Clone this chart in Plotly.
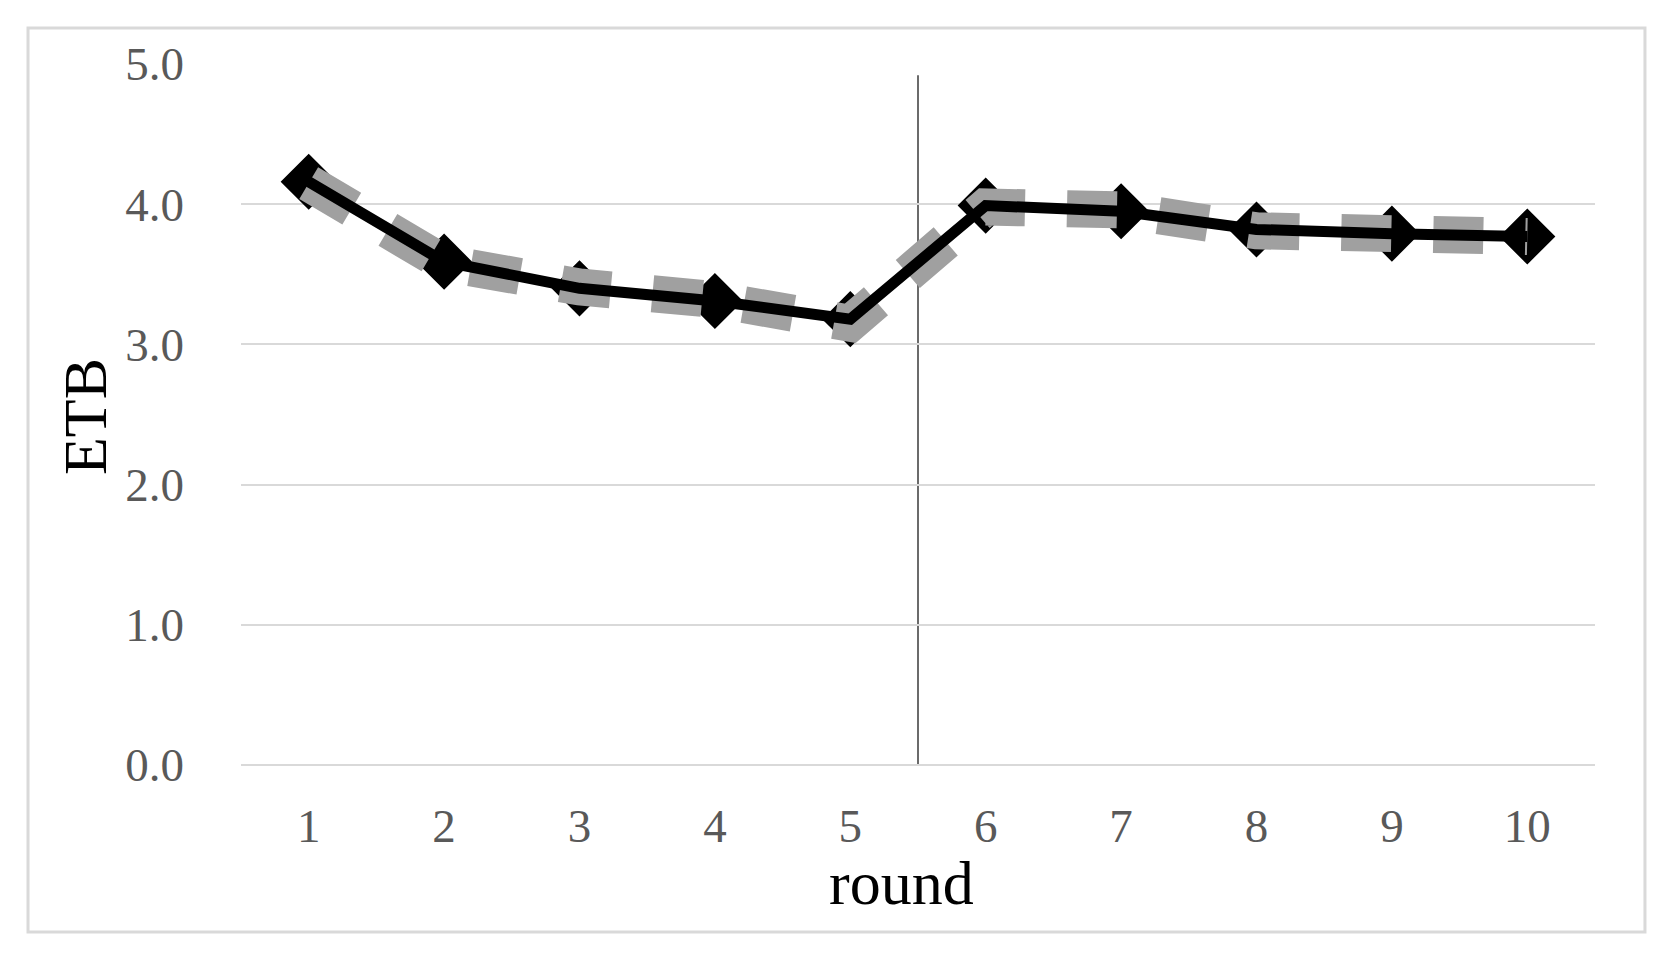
import plotly.graph_objects as go

rounds = [1, 2, 3, 4, 5, 6, 7, 8, 9, 10]
etb_main = [4.16, 3.59, 3.40, 3.31, 3.18, 3.99, 3.95, 3.82, 3.79, 3.77]
etb_gray = [4.15, 3.58, 3.41, 3.32, 3.15, 3.98, 3.96, 3.81, 3.79, 3.77]
y_ticks = [0, 1, 2, 3, 4, 5]
y_tick_text = ["0.0", "1.0", "2.0", "3.0", "4.0", "5.0"]
split_round = 5.5

FONT = "Liberation Serif"

fig = go.Figure()
# black diamond markers (underneath)
fig.add_trace(go.Scatter(x=rounds, y=etb_main, mode="markers",
                         marker=dict(symbol="diamond", size=41, color="black",
                                     line=dict(color="black", width=2)),
                         showlegend=False, hoverinfo="skip"))
# gray wide dashed line
fig.add_trace(go.Scatter(x=rounds, y=etb_gray, mode="lines",
                         line=dict(color="#a0a0a0", width=37, dash="50px,42px"),
                         showlegend=False))
# black solid line on top
fig.add_trace(go.Scatter(x=rounds, y=etb_main, mode="lines",
                         line=dict(color="black", width=11),
                         showlegend=False))

fig.add_shape(type="line", x0=split_round, x1=split_round, y0=0, y1=4.92,
              xref="x", yref="y", line=dict(color="#6b6b6b", width=2), layer="below")

# outer border
fig.add_shape(type="rect", xref="paper", yref="paper",
              x0=-0.1573, x1=1.0369, y0=-0.2382, y1=1.0514,
              line=dict(color="#d9d9d9", width=3))

fig.add_annotation(text="round", xref="paper", yref="paper", x=0.4875, y=-0.169,
                   xanchor="center", yanchor="middle", showarrow=False, borderpad=0,
                   font=dict(size=62, color="black", family=FONT))
fig.add_annotation(text="ETB", xref="paper", yref="paper", x=-0.1152, y=0.4964,
                   xanchor="center", yanchor="middle", showarrow=False, textangle=-90,
                   font=dict(size=62, color="black", family=FONT))

fig.update_layout(
    width=1659, height=947,
    margin=dict(l=233, r=72, t=56, b=190),
    paper_bgcolor="white", plot_bgcolor="white",
    font=dict(family=FONT, color="#595959"),
)
fig.update_xaxes(range=[0.5, 10.5], tickvals=rounds, ticktext=[str(r) for r in rounds],
                 showgrid=False, zeroline=False, showline=False, ticks="",
                 ticklabelstandoff=29,
                 tickfont=dict(size=47, color="#595959", family=FONT))
fig.update_yaxes(range=[0, 5], tickvals=y_ticks, ticktext=y_tick_text,
                 showgrid=True, gridcolor="#d9d9d9", gridwidth=2,
                 zeroline=True, zerolinecolor="#d9d9d9", zerolinewidth=2,
                 showline=False, ticks="", ticklen=0,
                 ticklabelstandoff=56,
                 tickfont=dict(size=47, color="#595959", family=FONT))

fig.write_html("out.html")
